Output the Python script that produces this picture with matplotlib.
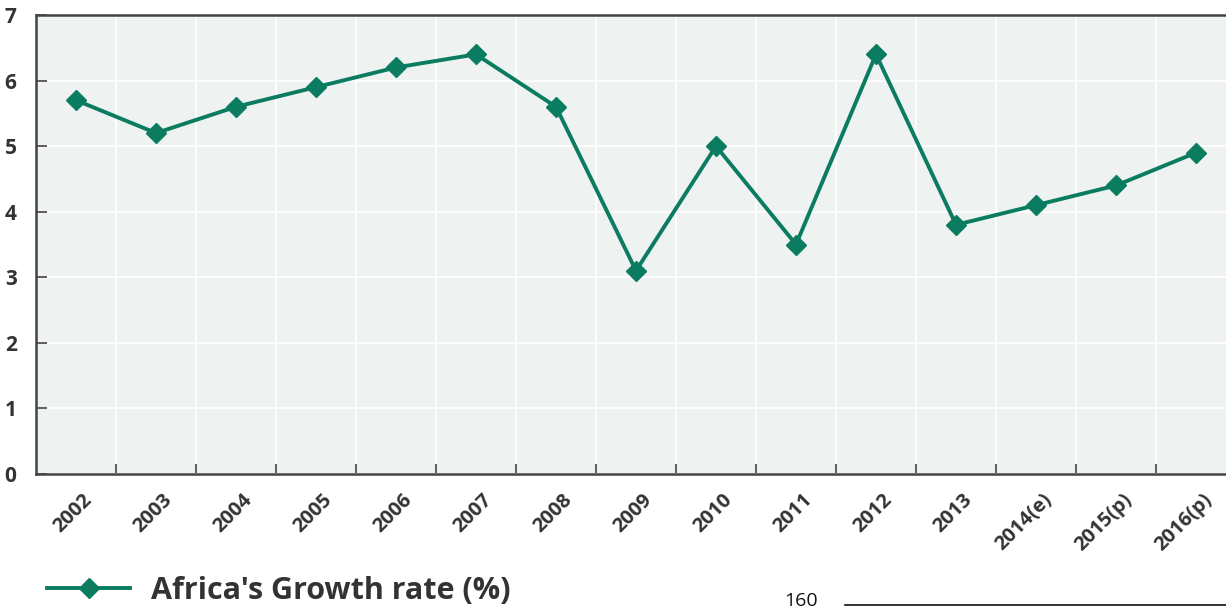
import matplotlib.pyplot as plt
import matplotlib.transforms as mtransforms
from matplotlib.lines import Line2D

years = ["2002", "2003", "2004", "2005", "2006", "2007", "2008", "2009",
         "2010", "2011", "2012", "2013", "2014(e)", "2015(p)", "2016(p)"]
growth = [5.7, 5.2, 5.6, 5.9, 6.2, 6.4, 5.6, 3.1, 5.0, 3.5, 6.4, 3.8, 4.1, 4.4, 4.9]
y_ticks = [0, 1, 2, 3, 4, 5, 6, 7]

GREEN = "#0b7c60"
TEXT = "#333333"
plt.rcParams["font.family"] = ["Open Sans", "DejaVu Sans"]

W, H = 1226, 611
fig = plt.figure(figsize=(W / 100, H / 100), dpi=100)
# plot area runs past the right edge, as in the cropped source
ax = fig.add_axes([36 / W, (H - 474) / H, 1200 / W, 459 / H])
ax.set_facecolor("#eef2f1")

x = list(range(len(years)))
ax.plot(x, growth, color=GREEN, linewidth=2.8, marker="D", markersize=10,
        markeredgecolor=GREEN, markerfacecolor=GREEN, zorder=3)

ax.set_xlim(-0.5, len(years) - 0.5)
ax.set_ylim(0, 7)

# category boundaries carry ticks and white gridlines
bounds = [i + 0.5 for i in range(len(years) - 1)]
ax.set_xticks(bounds)
ax.set_xticklabels([])
ax.tick_params(axis="x", which="major", direction="in", length=7, width=1.2,
               color="#444444")
for b in bounds:
    ax.axvline(b, color="white", linewidth=1.3, zorder=1)

# rotated category labels, anchored at their upper-right corner
shift = mtransforms.ScaledTranslation(6 / 100, -16 / 100, fig.dpi_scale_trans)
for i, name in zip(x, years):
    ax.text(i, 0, name, transform=ax.get_xaxis_transform() + shift,
            rotation=45, rotation_mode="anchor", ha="right", va="top",
            fontsize=14.5, fontweight="bold", color=TEXT, clip_on=False)

ax.set_yticks(y_ticks)
ax.set_yticklabels([str(v) for v in y_ticks], fontsize=15, fontweight="bold",
                   color=TEXT)
ax.tick_params(axis="y", direction="in", length=8, width=1.2, color="#444444",
               pad=14)
ax.grid(axis="y", color="white", linewidth=1.3, zorder=1)

for side in ["left", "bottom", "top"]:
    ax.spines[side].set_color("#444444")
    ax.spines[side].set_linewidth(1.8)
ax.spines["right"].set_visible(False)

# legend drawn in figure coordinates below the plot
fig.add_artist(Line2D([47 / W, 130 / W], [(H - 588) / H] * 2, color=GREEN,
                      linewidth=2.8, transform=fig.transFigure))
fig.add_artist(Line2D([88.5 / W], [(H - 588) / H], marker="D", markersize=10,
                      color=GREEN, transform=fig.transFigure))
fig.text(151 / W, (H - 591) / H, "Africa's Growth rate (%)", fontsize=22,
         fontweight="bold", color=TEXT, va="center", ha="left")

# fragment of the next chart at the bottom edge
fig.text(801 / W, (H - 610) / H, "160", fontsize=14, color="#111111",
         va="bottom", ha="center")
fig.add_artist(Line2D([845 / W, 1226 / W], [(H - 605) / H] * 2,
                      color="#111111", linewidth=1.2, transform=fig.transFigure))

fig.savefig("out.png", dpi=100)
